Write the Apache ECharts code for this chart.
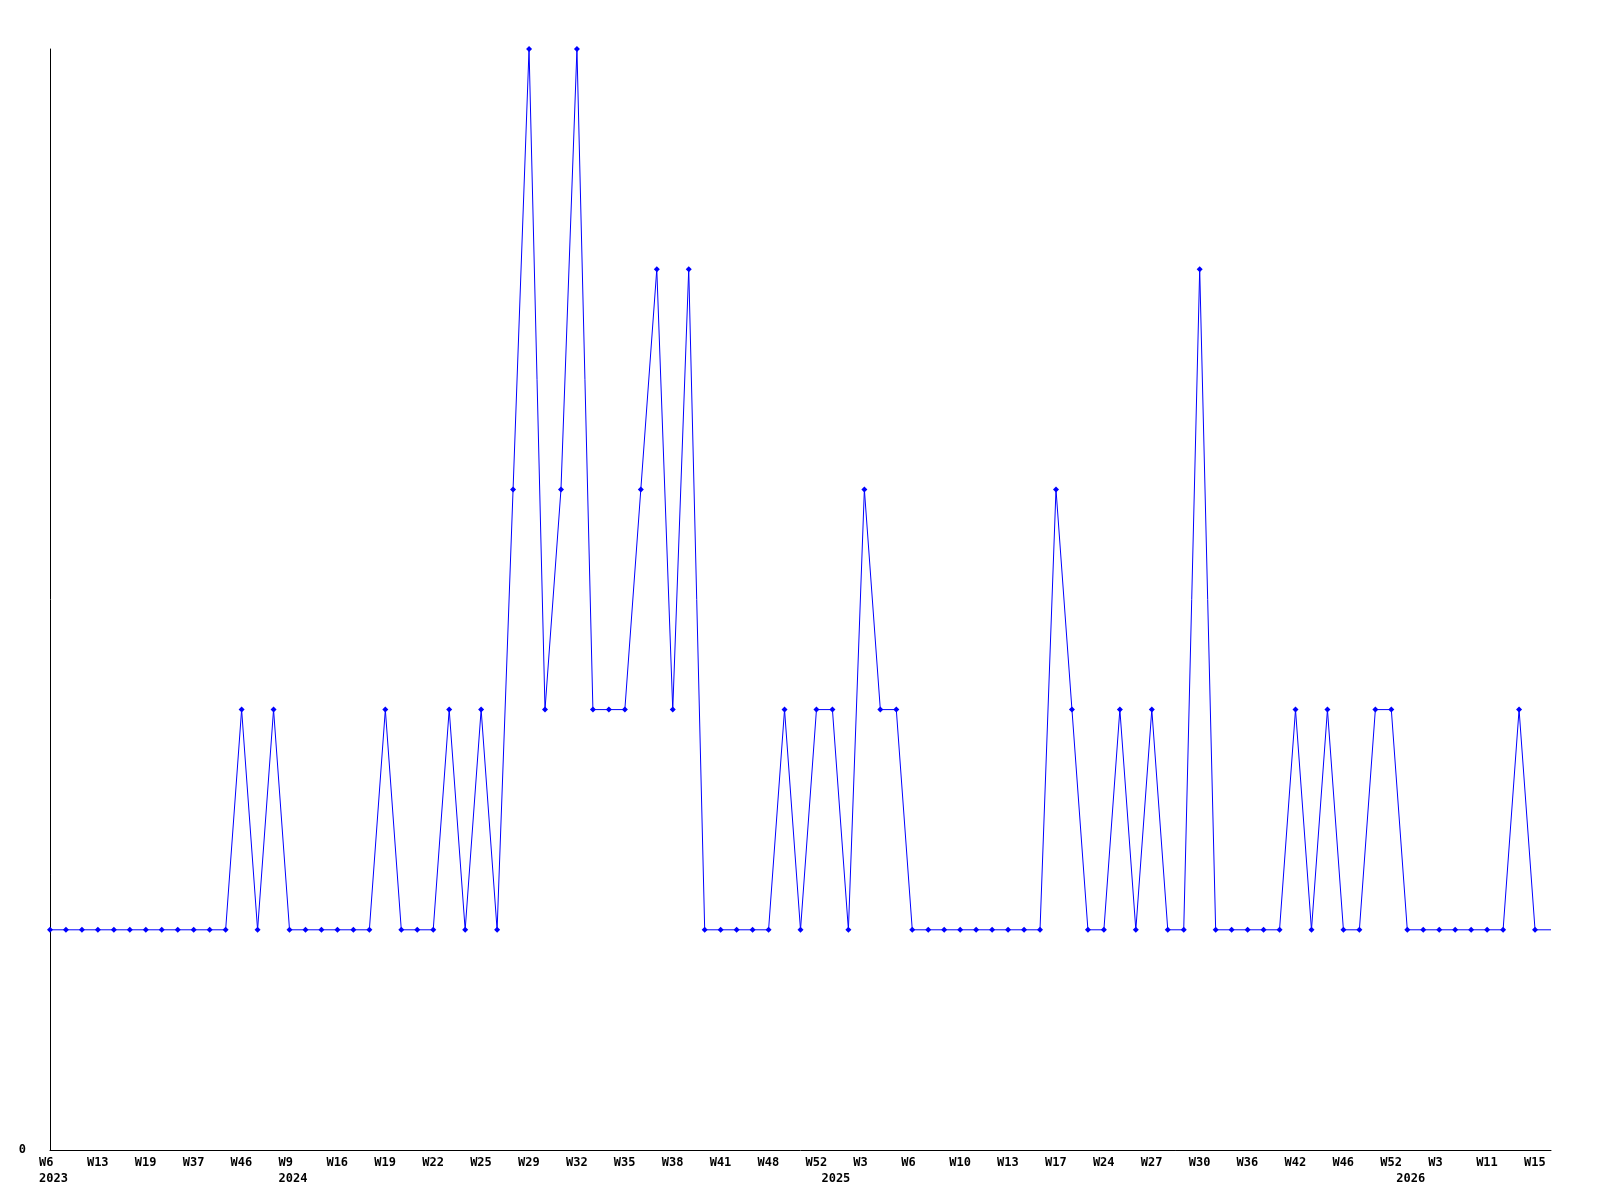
<!DOCTYPE html>
<html>
<head>
<meta charset="utf-8">
<script src="https://cdn.jsdelivr.net/npm/echarts@6/dist/echarts.min.js"></script>
<style>
    html, body { margin: 0; padding: 0; background: #fff; }
    #chart { width: 1600px; height: 1200px; }
</style>
</head>
<body>
<div id="chart"></div>
<script>
// weekly counts, one per point (last point is the running week, no marker)
var values = [
    1, 1, 1, 1, 1, 1, 1, 1, 1, 1, 1, 1,
    2, 1, 2, 1, 1, 1, 1, 1, 1, 2, 1, 1, 1, 2, 1, 2, 1,
    3, 5, 2, 3, 5, 2, 2, 2, 3, 4, 2, 4,
    1, 1, 1, 1, 1, 2, 1, 2, 2, 1, 3, 2, 2,
    1, 1, 1, 1, 1, 1, 1, 1, 1,
    3, 2, 1, 1, 2, 1, 2, 1, 1, 4,
    1, 1, 1, 1, 1, 2, 1, 2, 1, 1, 2, 2,
    1, 1, 1, 1, 1, 1, 1, 2, 1, 1
];
// week labels, shown on every third point
var tickLabels = ['W6', 'W13', 'W19', 'W37', 'W46', 'W9', 'W16', 'W19', 'W22', 'W25', 'W29',
    'W32', 'W35', 'W38', 'W41', 'W48', 'W52', 'W3', 'W6', 'W10', 'W13', 'W17',
    'W24', 'W27', 'W30', 'W36', 'W42', 'W46', 'W52', 'W3', 'W11', 'W15'];
var tickStep = 3;
// year labels and the point where each year begins
var years = ['2023', '2024', '2025', '2026'];
var yearStart = [0, 15, 49, 85];

var categories = values.map(function (v, i) { return String(i); });

var chart = echarts.init(document.getElementById('chart'));
var option = {
    animation: false,
    backgroundColor: '#ffffff',
    grid: {
        left: 50,
        right: 49,
        top: 49,
        bottom: 50,
        outerBoundsMode: 'none'
    },
    xAxis: {
        type: 'category',
        boundaryGap: false,
        data: categories,
        axisLine: { show: true, lineStyle: { color: '#000', width: 1 } },
        axisTick: { show: false },
        splitLine: { show: false },
        axisLabel: {
            interval: 0,
            margin: 5,
            align: 'left',
            padding: [0, 0, 0, -11],
            color: '#000',
            fontFamily: 'DejaVu Sans Mono',
            fontWeight: 'bold',
            fontSize: 12,
            lineHeight: 16,
            formatter: function (val, idx) {
                var week = idx % tickStep === 0 ? (tickLabels[idx / tickStep] || '') : '';
                var y = yearStart.indexOf(idx);
                var year = y >= 0 ? years[y] : '';
                if (!week && !year) return '';
                return week + '\n' + year;
            }
        }
    },
    yAxis: {
        type: 'value',
        min: 0,
        max: 5,
        interval: 1,
        axisLine: { show: true, lineStyle: { color: '#000', width: 1 } },
        axisTick: { show: false },
        splitLine: { show: false },
        axisLabel: {
            margin: 24,
            color: '#000',
            fontFamily: 'DejaVu Sans Mono',
            fontWeight: 'bold',
            fontSize: 12,
            formatter: function (v) { return v === 0 ? '0' : ''; }
        }
    },
    series: [{
        type: 'line',
        data: values.map(function (v, i) {
            return i === values.length - 1 ? { value: v, symbol: 'none' } : v;
        }),
        symbol: 'diamond',
        symbolSize: 6,
        showAllSymbol: true,
        lineStyle: { color: '#0000ff', width: 1 },
        itemStyle: { color: '#0000ff' }
    }]
};
chart.setOption(option);
</script>
</body>
</html>
